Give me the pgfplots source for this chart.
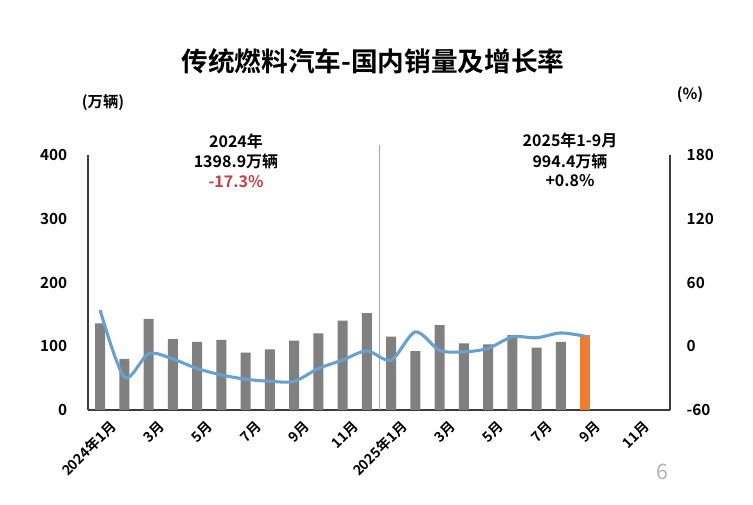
\documentclass[border=0pt]{standalone}
\usepackage{pgfplots}
\pgfplotsset{compat=1.18}
\usepackage{pgfplotstable}
\usepackage{fontspec}
\setmainfont{Noto Sans CJK SC}[BoldFont={Noto Sans CJK SC Bold}]
\definecolor{bargray}{RGB}{128,128,128}
\definecolor{barorange}{RGB}{237,125,49}
\definecolor{lineblue}{RGB}{104,160,208}
\definecolor{redtxt}{RGB}{200,62,72}
\definecolor{axgray}{RGB}{60,60,60}

\pgfplotstableread{
x v
0 136
1 80
2 143
3 111
4 107
5 110
6 90
7 95
8 109
9 120
10 140
11 152
12 115
13 92.5
14 133
15 104.6
16 103
17 117.6
18 98
19 107
}\graybars
\pgfplotstableread{
x v
20 117.6
}\orangebars
\pgfplotstableread{
x g
0 34
1 -29
2 -7
3 -12
4 -21
5 -27
6 -31
7 -33
8 -33
9 -21
10 -13
11 -4.4
12 -13
13 13.5
14 -3.8
15 -5.3
16 -2
17 8.8
18 8
19 12.5
20 9.4
}\growth

\begin{document}
\begin{tikzpicture}
\useasboundingbox (0,0) rectangle (564.75pt,378.75pt);
\begin{axis}[
  at={(66pt,71.25pt)}, anchor=south west,
  scale only axis, width=436.5pt, height=191.25pt,
  xmin=-0.5, xmax=23.5, ymin=0, ymax=400,
  ytick={0,100,200,300,400},
  xtick={0,2,...,22},
  xticklabels={2024年1月,3月,5月,7月,9月,11月,2025年1月,3月,5月,7月,9月,11月},
  axis x line*=bottom, axis y line*=left,
  axis line style={axgray, line width=1.1pt, -},
  major tick length=0pt,
  tick label style={font=\bfseries\fontsize{11.5}{13}\selectfont, text=black},
  y tick label style={xshift=-12pt},
  x tick label style={rotate=45, anchor=north east, yshift=-6pt, xshift=3pt, font=\bfseries\fontsize{10.5}{12}\selectfont},
  /pgf/number format/assume math mode=true,
  clip=false,
]
\addplot[ybar, bar width=7.5pt, bar shift=0pt, fill=bargray, draw=none] table[x=x,y=v] {\graybars};
\addplot[ybar, bar width=7.5pt, bar shift=0pt, fill=barorange, draw=none] table[x=x,y=v] {\orangebars};
\draw[gray!70, line width=0.5pt] (axis cs:11.5,0) -- (axis cs:11.5,416);
\end{axis}
\begin{axis}[
  at={(66pt,71.25pt)}, anchor=south west,
  scale only axis, width=436.5pt, height=191.25pt,
  xmin=-0.5, xmax=23.5, ymin=-60, ymax=180,
  ytick={-60,0,60,120,180},
  axis x line=none, axis y line*=right,
  axis line style={axgray, line width=1.1pt, -},
  major tick length=0pt,
  tick label style={font=\bfseries\fontsize{11.5}{13}\selectfont, text=black},
  y tick label style={xshift=9pt},
  /pgf/number format/assume math mode=true,
]
\addplot[lineblue, line width=2.3pt, smooth, tension=0.5, mark=none] table[x=x,y=g] {\growth};
\end{axis}
\begin{scope}[x=0.75pt,y=0.75pt]
\node[font=\bfseries\fontsize{20}{24}\selectfont] at (373,444) {传统燃料汽车-国内销量及增长率};
\node[font=\bfseries\fontsize{11.5}{13}\selectfont] at (103,402) {(万辆)};
\node[font=\bfseries\fontsize{11.5}{13}\selectfont] at (690,410) {(\%)};
\node[font=\bfseries\fontsize{12}{14}\selectfont] at (236,363.5) {2024年};
\node[font=\bfseries\fontsize{12}{14}\selectfont] at (236,343.5) {1398.9万辆};
\node[font=\bfseries\fontsize{12}{14}\selectfont, text=redtxt] at (236,323.5) {-17.3\%};
\node[font=\bfseries\fontsize{12}{14}\selectfont] at (570,364.5) {2025年1-9月};
\node[font=\bfseries\fontsize{12}{14}\selectfont] at (570,344) {994.4万辆};
\node[font=\bfseries\fontsize{12}{14}\selectfont] at (570,324.5) {+0.8\%};
\node[font=\fontsize{16}{18}\selectfont, text=gray!60] at (662,33) {6};
\end{scope}
\end{tikzpicture}
\end{document}
